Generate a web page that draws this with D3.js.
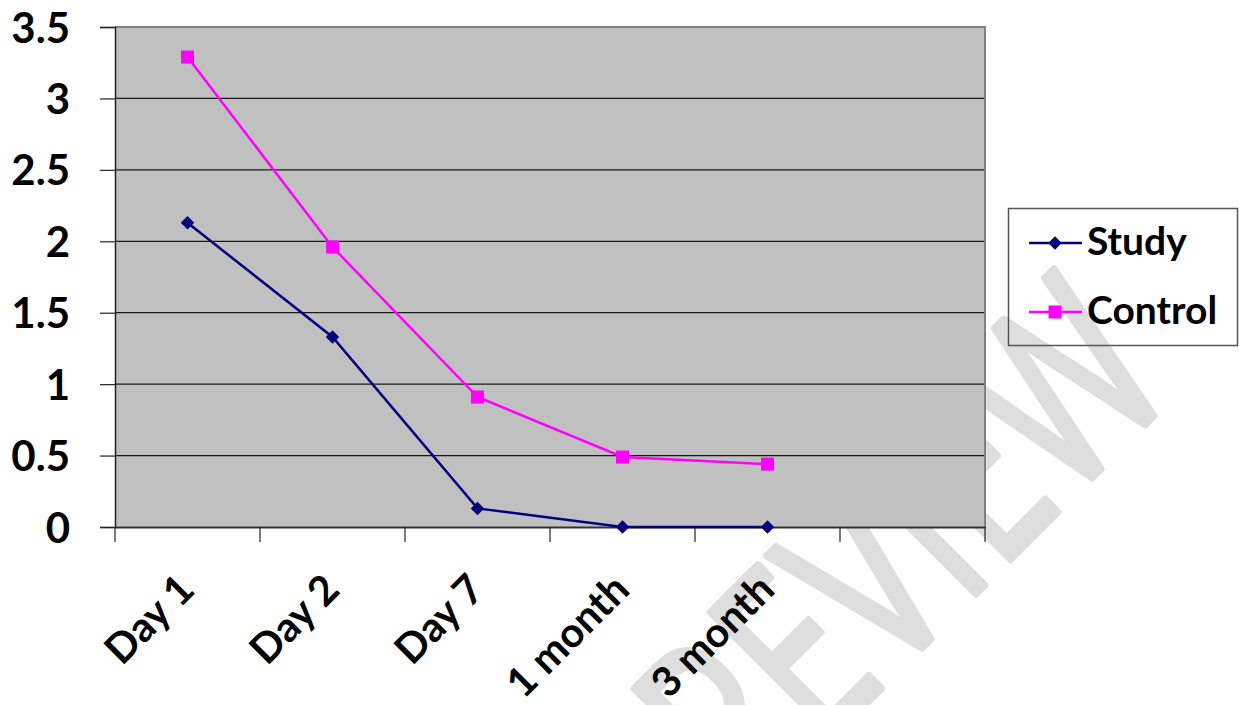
<!DOCTYPE html>
<html>
<head>
<meta charset="utf-8">
<script src="https://cdn.jsdelivr.net/npm/d3@7"></script>
<style>
  html, body { margin: 0; padding: 0; background: #ffffff; }
  svg { display: block; }
</style>
</head>
<body>
<svg id="chart" width="1239" height="705"></svg>
<script>
// Category slots along the x axis (the last slot is left empty)
const categories = ["Day 1", "Day 2", "Day 7", "1 month", "3 month", ""];
const studyValues = [2.13, 1.33, 0.13, 0.0, 0.0];
const controlValues = [3.29, 1.96, 0.91, 0.49, 0.44];
const yTicks = [0, 0.5, 1, 1.5, 2, 2.5, 3, 3.5];
const seriesNames = ["Study", "Control"];
const seriesColors = ["#000080", "#FF00FF"];

const svg = d3.select("#chart");
const font = "Lato, 'Open Sans', sans-serif";

const plot = { left: 115, right: 985, top: 27, bottom: 527 };

const x = d3.scaleBand().domain(categories.map((c, i) => i)).range([plot.left, plot.right]).padding(0);
const y = d3.scaleLinear().domain([0, 3.5]).range([plot.bottom, plot.top]);
const cx = i => x(i) + x.bandwidth() / 2;

// Faint background watermark
svg.append("text")
  .attr("transform", "translate(1180,390) rotate(-45)")
  .attr("text-anchor", "end")
  .attr("font-family", "'Open Sans', sans-serif")
  .attr("font-weight", 400)
  .attr("font-size", 245)
  .attr("textLength", 720)
  .attr("lengthAdjust", "spacingAndGlyphs")
  .attr("fill", "#dedede")
  .attr("stroke", "#dedede")
  .attr("stroke-width", 7)
  .attr("stroke-linejoin", "round")
  .text("PREVIEW");

// Plot background
svg.append("rect")
  .attr("x", plot.left).attr("y", plot.top)
  .attr("width", plot.right - plot.left).attr("height", plot.bottom - plot.top)
  .attr("fill", "#C0C0C0");

// Horizontal gridlines
svg.append("g").selectAll("line")
  .data(yTicks.filter(t => t > 0 && t < 3.5))
  .join("line")
  .attr("x1", plot.left).attr("x2", plot.right)
  .attr("y1", d => y(d)).attr("y2", d => y(d))
  .attr("stroke", "#1a1a1a").attr("stroke-width", 1.2);

// Plot frame: top and right edges
svg.append("path")
  .attr("d", `M${plot.left},${plot.top}H${plot.right}V${plot.bottom}`)
  .attr("fill", "none").attr("stroke", "#808080").attr("stroke-width", 2);

// Y axis
const yAxis = d3.axisLeft(y).tickValues(yTicks).tickSize(15).tickFormat(d => d3.format("~g")(d));
const yg = svg.append("g").attr("transform", `translate(${plot.left},0)`).call(yAxis);
yg.select(".domain").attr("stroke", "#222").attr("stroke-width", 1.5);
yg.selectAll(".tick line").attr("stroke", "#222").attr("stroke-width", 1.2);
yg.selectAll(".tick text")
  .attr("x", -45)
  .attr("dy", "0.36em")
  .attr("font-family", font)
  .attr("font-weight", 700)
  .attr("font-size", 42)
  .attr("fill", "#000");

// X axis
const xAxis = d3.axisBottom(x).tickSize(0).tickFormat(i => categories[i]);
const xg = svg.append("g").attr("transform", `translate(0,${plot.bottom})`).call(xAxis);
xg.select(".domain").attr("stroke", "#333").attr("stroke-width", 2);
xg.selectAll(".tick text")
  .attr("text-anchor", "end")
  .attr("font-family", font)
  .attr("font-weight", 700)
  .attr("font-size", 41)
  .attr("fill", "#000")
  .attr("y", 0).attr("dy", 0)
  .attr("transform", "translate(9,65) rotate(-45)");
// tick marks at band boundaries
const bounds = categories.map((c, i) => x(i)).concat([plot.right]);
xg.append("g").selectAll("line")
  .data(bounds)
  .join("line")
  .attr("x1", d => d).attr("x2", d => d)
  .attr("y1", 0).attr("y2", 15)
  .attr("stroke", "#222").attr("stroke-width", 1.2);

// Series lines and markers
const seriesData = [studyValues, controlValues];
const line = d3.line().x((d, i) => cx(i)).y(d => y(d));

seriesData.forEach((vals, s) => {
  svg.append("path")
    .datum(vals)
    .attr("d", line)
    .attr("fill", "none")
    .attr("stroke", seriesColors[s])
    .attr("stroke-width", 2.5);
});

const diamondPath = d3.symbol().type(d3.symbolSquare).size(90)();
svg.append("g").selectAll("path")
  .data(studyValues)
  .join("path")
  .attr("transform", (d, i) => `translate(${cx(i)},${y(d)}) rotate(45)`)
  .attr("d", diamondPath)
  .attr("fill", seriesColors[0]);

svg.append("g").selectAll("rect")
  .data(controlValues)
  .join("rect")
  .attr("x", (d, i) => cx(i) - 6.5)
  .attr("y", d => y(d) - 6.5)
  .attr("width", 13).attr("height", 13)
  .attr("fill", seriesColors[1]);

// Legend
const legend = svg.append("g");
legend.append("rect")
  .attr("x", 1008.5).attr("y", 208.5)
  .attr("width", 229).attr("height", 137)
  .attr("fill", "none").attr("stroke", "#555").attr("stroke-width", 1.5);

const legendRows = [243, 312];
seriesNames.forEach((name, s) => {
  const ly = legendRows[s];
  legend.append("line")
    .attr("x1", 1029).attr("x2", 1082)
    .attr("y1", ly).attr("y2", ly)
    .attr("stroke", seriesColors[s]).attr("stroke-width", 2.5);
  if (s === 0) {
    legend.append("path")
      .attr("transform", `translate(1055,${ly}) rotate(45)`)
      .attr("d", diamondPath)
      .attr("fill", seriesColors[s]);
  } else {
    legend.append("rect")
      .attr("x", 1055 - 6.5).attr("y", ly - 6.5)
      .attr("width", 13).attr("height", 13)
      .attr("fill", seriesColors[s]);
  }
  legend.append("text")
    .attr("x", 1087).attr("y", ly + 12)
    .attr("font-family", font)
    .attr("font-weight", 700)
    .attr("font-size", 39)
    .attr("fill", "#000")
    .text(name);
});
</script>
</body>
</html>
